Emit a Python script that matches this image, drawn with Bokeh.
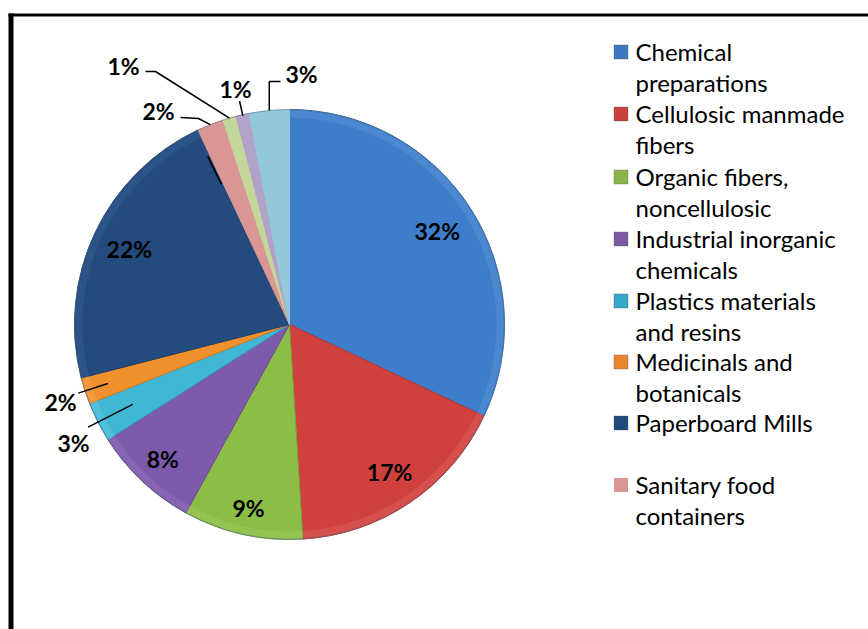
import math
from bokeh.plotting import figure
from bokeh.models import Range1d
from bokeh.core.properties import value
from bokeh.embed import file_html
from bokeh.resources import INLINE

# ---- data -------------------------------------------------------------
categories = [
    "Chemical preparations",
    "Cellulosic manmade fibers",
    "Organic fibers, noncellulosic",
    "Industrial inorganic chemicals",
    "Plastics materials and resins",
    "Medicinals and botanicals",
    "Paperboard Mills",
    "Sanitary food containers",
    "Other A",
    "Other B",
    "Other C",
]
shares = [32, 17, 9, 8, 3, 2, 22, 2, 1, 1, 3]
pct_labels = [f"{v}%" for v in shares]

legend_lines = [
    ["Chemical", "preparations"],
    ["Cellulosic manmade", "fibers"],
    ["Organic fibers,", "noncellulosic"],
    ["Industrial inorganic", "chemicals"],
    ["Plastics materials", "and resins"],
    ["Medicinals and", "botanicals"],
    ["Paperboard Mills"],
    ["Sanitary food", "containers"],
]

# ---- styling ------------------------------------------------------------
fills = ["#3D7ECB", "#D0413D", "#8CBD47", "#7D5AAA", "#3FB7D5", "#F0912E",
         "#234B7E", "#D99694", "#C4D79B", "#B3A2C7", "#93C8DA"]
edges = ["#356BAE", "#B23733", "#78A23C", "#694B90", "#3499B3", "#CC7A25",
         "#1C3C66", "#D99694", "#C4D79B", "#B3A2C7", "#93C8DA"]
rims = ["#6FA3E0", "#E47672", "#ACD46F", "#A283C9", "#7ED3EA", "#F9B46A",
        "#3F6AA3", None, None, None, None]
legend_fills = ["#3F77C0", "#C9403C", "#8AB44A", "#7A5AA5", "#35A9C9",
                "#E8852D", "#1F4A7D", "#D99694"]

W, H = 868, 629
CX, CY, R = 289, 324, 215
FONT = "Lato"


def sy(y):
    """Screen y (top-down) to data y (bottom-up)."""
    return H - y


p = figure(width=W, height=H, x_range=Range1d(0, W), y_range=Range1d(0, H),
           toolbar_location=None, output_backend="svg", min_border=0)
p.axis.visible = False
p.grid.visible = False
p.outline_line_color = None
p.background_fill_color = "white"
p.border_fill_color = "white"

# frame around the chart area
p.line([10.5, 10.5], [sy(H + 5), sy(13)], line_color="black", line_width=5)
p.line([8, W + 5], [sy(14.5), sy(14.5)], line_color="black", line_width=3)

# ---- pie ----------------------------------------------------------------
total = float(sum(shares))
cum = [0.0]
for v in shares:
    cum.append(cum[-1] + v / total)

starts = [math.pi / 2 - 2 * math.pi * c for c in cum[:-1]]
ends = [math.pi / 2 - 2 * math.pi * c for c in cum[1:]]
mids = [(cum[i] + cum[i + 1]) / 2 for i in range(len(shares))]


def polar(frac, r):
    """Screen point at a fraction of the way round (clockwise from top)."""
    a = 2 * math.pi * frac
    return CX + r * math.sin(a), CY - r * math.cos(a)


p.wedge(x=[CX] * len(shares), y=[sy(CY)] * len(shares), radius=R,
        start_angle=starts, end_angle=ends, direction="clock",
        fill_color=fills, line_color=edges, line_width=1)

# soft bevel on the saturated slices
for i, rc in enumerate(rims):
    if rc is None:
        continue
    p.annular_wedge(x=CX, y=sy(CY), inner_radius=R - 8, outer_radius=R - 1,
                    start_angle=starts[i], end_angle=ends[i], direction="clock",
                    fill_color=rc, fill_alpha=0.28, line_color=None)
p.circle(x=CX, y=sy(CY), radius=R, fill_color=None, line_color="#5A6F8C",
         line_alpha=0.5, line_width=1)

# ---- labels inside the large slices ---------------------------------------
LABEL_SIZE = "23px"
inner_idx = [0, 1, 2, 3, 6]
inner_r = [175, 178, 188, 185, 177]
for i, r in zip(inner_idx, inner_r):
    x, y = polar(mids[i], r)
    p.text(x=[x], y=[sy(y)], text=[pct_labels[i]], text_align="center",
           text_baseline="middle", text_font=value(FONT),
           text_font_size=LABEL_SIZE, text_font_style="bold",
           text_color="black")

# ---- outside labels with leader lines -----------------------------------
def leader(xs, ys):
    p.line(xs, [sy(v) for v in ys], line_color="black", line_width=1.5)


def out_label(i, x, y):
    p.text(x=[x], y=[sy(y)], text=[pct_labels[i]], text_align="center",
           text_baseline="middle", text_font=value(FONT),
           text_font_size=LABEL_SIZE, text_font_style="bold",
           text_color="black")


# Medicinals and botanicals (radial)
a0 = polar(mids[5], 191); a1 = polar(mids[5], 222)
leader([a0[0], a1[0]], [a0[1], a1[1]])
out_label(5, 60, 401)

# Plastics materials and resins (radial)
a0 = polar(mids[4], 176); a1 = polar(mids[4], 226)
leader([a0[0], a1[0]], [a0[1], a1[1]])
out_label(4, 73, 442)

# Sanitary food containers
a0 = polar(mids[7], R)
leader([a0[0], 198, 180], [a0[1], 118, 117])
out_label(7, 158, 110)
# short stroke near the Paperboard / Sanitary edge
b0 = polar(cum[7] - 0.002, 156); b1 = polar(cum[7] - 0.002, 187)
leader([b0[0], b1[0]], [b0[1], b1[1]])

# first 1% slice
a0 = polar(mids[8], R)
leader([a0[0], 155, 145], [a0[1], 71, 71])
out_label(8, 123, 65)

# second 1% slice (radial)
a0 = polar(mids[9], R - 1); a1 = polar(mids[9], 229)
leader([a0[0], a1[0]], [a0[1], a1[1]])
out_label(9, 235, 88)

# last 3% slice
a0 = polar(mids[10], R)
leader([a0[0], a0[0], 280], [a0[1], 81, 81])
out_label(10, 301, 73)

# ---- legend ----------------------------------------------------------------
LINE_H = 30.7
row_y = [51, 113, 176, 238, 300, 361, 422, 484]
for k, lines in enumerate(legend_lines):
    y0 = row_y[k]
    p.rect(x=[620.5], y=[sy(y0 + 0.5)], width=14, height=14,
           fill_color=legend_fills[k],
           line_color=None if k == 7 else "#555555", line_alpha=0.35)
    for j, t in enumerate(lines):
        p.text(x=[635], y=[sy(y0 + j * LINE_H)], text=[t], text_align="left",
               text_baseline="middle", text_font=value(FONT),
               text_font_size="24px", text_color="black")

open("out.html", "w").write(file_html(p, INLINE))
